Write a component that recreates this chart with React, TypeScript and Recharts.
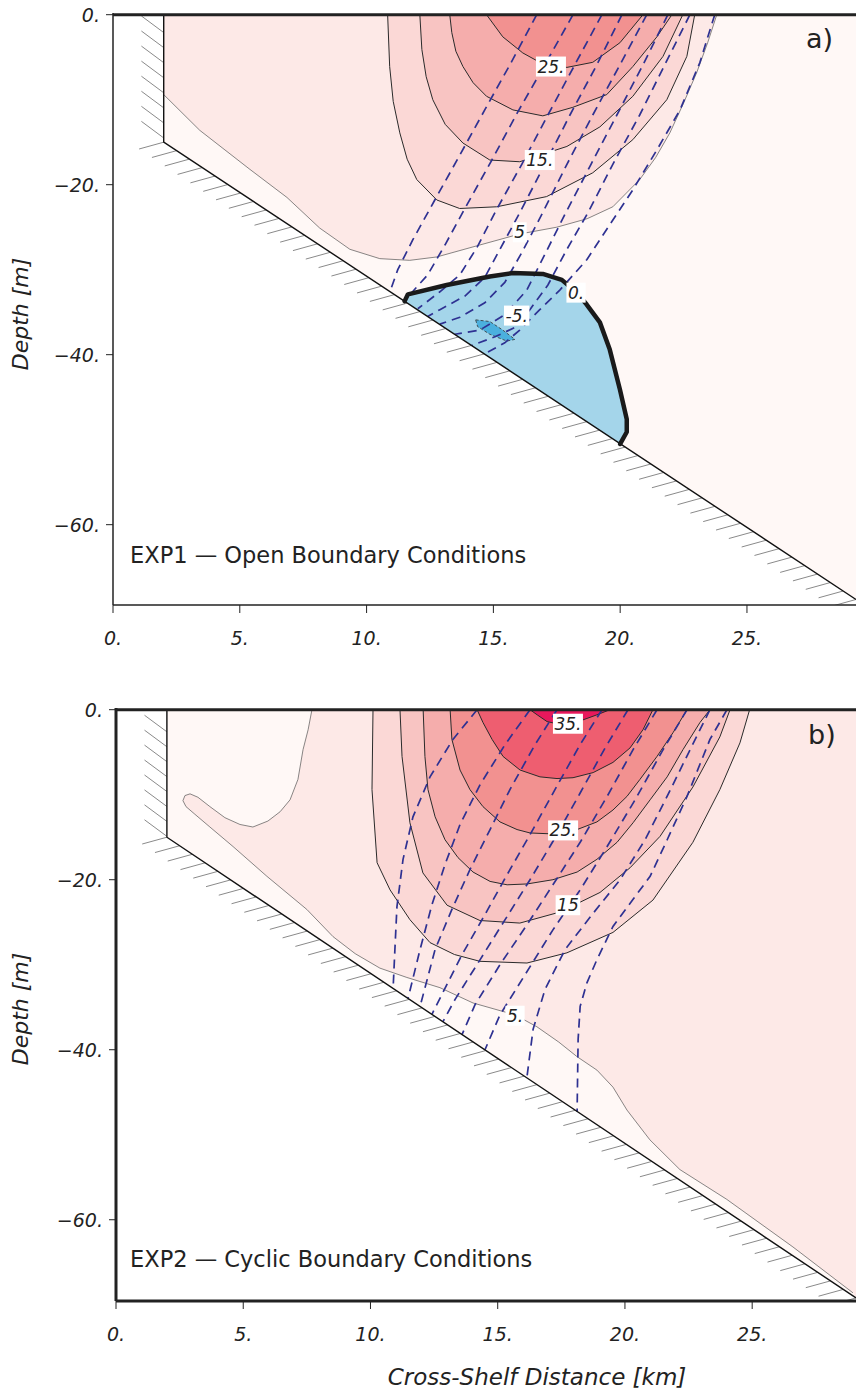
import React from "react";
import { ComposedChart, XAxis, YAxis, Scatter, Line } from "recharts";

const FONT = "'DejaVu Sans', sans-serif";
const INK = "#222";
const DASH_BLUE = "#2E3192";

const X_TICKS = [0, 5, 10, 15, 20, 25];
const Y_TICKS = [-60, -40, -20, 0];

// ---------- panel a (EXP1) ----------
const A_WATER = [[2, 0], [2, -15], [29.3, -68.8], [29.3, 0]];
const A_BED = [[2, 0], [2, -15], [29.3, -68.8]];
const A_C5 = [[2, -9.4], [3.42, -13.6], [5.4, -18.2], [6.86, -21.5], [8.15, -25.1], [9.34, -27.6], [10.52, -28.7], [11.7, -28.9], [12.77, -28.5], [14.46, -27.1], [16.04, -25.8], [17.5, -25], [18.7, -24], [19.71, -22.6], [20.77, -19.4], [21.4, -16.8], [21.96, -13.9], [22.5, -10.4], [23.02, -6.8], [23.45, -3.3], [23.81, 0]];
const A_C10 = [[10.83, 0], [10.91, -6.1], [11.05, -10.2], [11.31, -13.9], [11.6, -17], [11.98, -19.4], [12.77, -21.8], [13.67, -22.8], [15.13, -22.6], [17.1, -21.4], [18.92, -18.6], [20.5, -14.7], [21.84, -10], [22.63, -4.9], [22.94, 0]];
const A_C15 = [[12.1, 0], [12.18, -4.1], [12.35, -7.3], [12.61, -10], [13.1, -12.9], [13.8, -15.1], [14.86, -17.1], [16.04, -17.3], [17.9, -15.5], [19.2, -13.2], [20.5, -9.6], [21.69, -4.9], [22.47, 0]];
const A_C20 = [[13.28, 0], [13.36, -2.1], [13.52, -4.3], [13.8, -6.1], [14.2, -8], [14.73, -9.6], [15.77, -11.2], [16.95, -11.9], [18.13, -10.9], [19.47, -9.4], [20.5, -6.1], [21.45, -2.6], [22.04, 0]];
const A_C25 = [[14.73, 0], [15.37, -2.6], [16.16, -4.5], [16.83, -5.6], [17.9, -6.2], [18.92, -5.6], [19.99, -3.3], [20.9, 0]];
const A_C0 = [[11.5, -33.7], [11.63, -32.9], [13.16, -31.8], [14.86, -30.8], [15.77, -30.4], [16.95, -30.5], [17.7, -31.2], [18.29, -32.7], [18.68, -34.1], [19.2, -36.2], [19.59, -39.4], [19.99, -44.1], [20.26, -47.6], [20.26, -49.1], [20.0, -50.5]];
const A_CM5 = [[14.3, -35.9], [14.86, -36.1], [15.37, -37.1], [15.85, -38.2], [15.53, -38.4], [14.86, -37.6], [14.38, -36.7], [14.3, -35.9]];
const A_DASHED = [
  [[16.71, 0], [15.65, -5.9], [14.66, -11.2], [13.68, -16.5], [12.69, -21.8], [11.82, -26.5], [11.23, -30], [10.92, -32.6]],
  [[18.14, 0], [17.03, -5.9], [15.97, -11.4], [14.94, -17.1], [13.95, -22.4], [13.09, -27.1], [12.41, -30.6], [11.51, -33.6]],
  [[19.28, 0], [18.21, -5.9], [17.15, -11.8], [16.12, -17.6], [15.13, -22.9], [14.35, -27.4], [13.68, -30.6], [12.89, -32.6], [12.02, -34.6]],
  [[20.07, 0], [19.08, -5.9], [18.02, -11.8], [17.03, -17.6], [16.04, -23.3], [15.26, -27.6], [14.66, -30.9], [13.88, -33.1], [12.89, -34.7], [12.41, -35.5]],
  [[21.05, 0], [19.99, -5.9], [18.92, -11.8], [17.9, -17.6], [16.91, -23.5], [16.12, -28], [15.45, -31.5], [14.66, -33.9], [13.68, -35.6], [12.89, -36.4]],
  [[21.88, 0], [20.9, -5.9], [19.87, -11.8], [18.85, -17.6], [17.82, -23.5], [17.03, -28.2], [16.32, -32.4], [15.45, -35.3], [14.47, -37.1], [13.48, -37.6]],
  [[22.75, 0], [21.8, -5.65], [20.77, -11.8], [19.71, -17.6], [18.73, -23.3], [17.9, -27.6], [17.15, -31.8], [16.44, -34.7], [15.85, -36.8], [15.06, -37.9], [14.15, -38.9]],
  [[23.73, 0], [23.14, -5.65], [22.36, -11.2], [21.45, -15.9], [20.5, -20.6], [19.59, -24.7], [18.69, -28.8], [17.62, -32.4], [16.83, -34.7], [16.04, -37.1], [15.45, -38.6], [14.66, -39.9]],
];
const A_LABELS = [
  { x: 17.27, y: -6.1, t: "25." },
  { x: 16.83, y: -17.1, t: "15." },
  { x: 16.04, y: -25.6, t: "5" },
  { x: 18.26, y: -32.7, t: "0." },
  { x: 15.92, y: -35.4, t: "-5." },
];

// ---------- panel b (EXP2) ----------
const B_WATER = [[2, 0], [2, -15], [29.08, -69.2], [29.08, 0]];
const B_BED = [[2, 0], [2, -15], [29.08, -69.2]];
const B_C5 = [[7.7, 0], [7.55, -2.35], [7.35, -4.7], [7.15, -8.2], [6.84, -10.6], [6.45, -12], [5.97, -13.1], [5.38, -13.8], [4.87, -13.5], [4.28, -12.7], [3.69, -11.4], [3.22, -10.3], [2.91, -9.9], [2.71, -10.1], [2.63, -10.7], [2.75, -11.4], [3.1, -12.3], [3.69, -13.8], [4.6, -16.1], [5.93, -19.6], [7.5, -23.5], [8.53, -26.7], [9.4, -28.7], [10.37, -30.4], [11.43, -31.5], [12.73, -32.7], [14.03, -34.5], [15.68, -35.9], [16.54, -37.3], [17.4, -39.1], [18.11, -40.8], [18.9, -42.4], [19.53, -44.4], [20.08, -47.1], [20.98, -50.6], [22.16, -54.1], [24.0, -57.6], [26.6, -63.2], [28.96, -68.6]];
const B_C10 = [[10.1, 0], [10.06, -9.4], [10.26, -18], [10.77, -21.2], [11.55, -24.7], [12.34, -27.4], [13.3, -28.8], [14.3, -29.6], [16.15, -29.8], [17.72, -28.6], [19.53, -26.2], [21.1, -22.4], [22.67, -15.6], [23.73, -9.4], [24.52, -3.9], [24.9, 0]];
const B_C15 = [[11.16, 0], [11.24, -5.5], [11.55, -13.3], [12.06, -19.2], [13.01, -23], [14.3, -24.8], [15.87, -25.1], [17.45, -23.8], [19.02, -21.5], [20.2, -18.6], [21.38, -14.9], [22.67, -9.1], [23.73, -3.2], [24.13, 0]];
const B_C20 = [[12.07, 0], [12.14, -5.5], [12.26, -9.4], [12.54, -12.6], [12.93, -15.3], [13.44, -17.4], [14.03, -19.1], [14.7, -20.2], [15.37, -20.6], [16.15, -20.5], [17.17, -20], [18.12, -19.1], [18.9, -17.6], [19.69, -15.6], [20.32, -13.3], [20.99, -10.6], [21.66, -7.9], [22.28, -4.7], [22.95, -1.5], [23.34, 0]];
const B_C25 = [[13.13, 0], [13.2, -3.5], [13.52, -7.1], [13.91, -9.4], [14.42, -11.4], [15.09, -13.2], [15.76, -14.1], [16.27, -14.5], [17.05, -14.6], [18.12, -14.1], [18.9, -13.2], [19.53, -11.8], [20.08, -10.2], [20.59, -8.2], [21.26, -5.5], [21.89, -2.7], [22.44, 0]];
const B_C30 = [[14.19, 0], [14.42, -1.5], [14.78, -3.5], [15.21, -5.5], [15.88, -7.1], [16.66, -7.9], [17.33, -8.1], [17.96, -8.0], [18.75, -7.4], [19.53, -6.2], [20.2, -4.5], [20.71, -2.35], [21.1, 0]];
const B_C35 = [[16.27, 0], [16.55, -0.6], [16.94, -1.4], [17.33, -1.65], [17.84, -1.5], [18.35, -1.2], [18.9, -0.6], [19.41, 0]];
const B_DASHED = [
  [[14.19, 0], [13.24, -3.5], [12.34, -7.9], [11.67, -12.6], [11.28, -17.6], [11.04, -23.2], [10.96, -28.2], [10.89, -32.8]],
  [[16.27, 0], [15.29, -4.1], [14.31, -8.8], [13.52, -13.5], [12.93, -18.2], [12.42, -22.9], [11.95, -28.2], [11.48, -33.9]],
  [[17.33, 0], [16.47, -4.1], [15.48, -9.4], [14.7, -14.1], [13.91, -18.8], [13.2, -23.5], [12.54, -28.2], [11.95, -34.9]],
  [[19.1, 0], [18.24, -4.1], [17.25, -9.4], [16.27, -14.7], [15.37, -19.4], [14.5, -24.1], [13.6, -28.8], [12.42, -35.8]],
  [[20.12, 0], [19.22, -4.5], [18.24, -9.8], [17.25, -15.1], [16.27, -20], [15.29, -24.7], [14.31, -29.4], [13.32, -34.1], [12.85, -36.7]],
  [[21.26, 0], [20.32, -4.7], [19.3, -10.2], [18.24, -15.6], [17.17, -20.6], [16.15, -25.3], [15.09, -30], [14.11, -34.7], [13.6, -38.2]],
  [[22.44, 0], [21.46, -4.9], [20.4, -10.6], [19.3, -16.1], [18.24, -21.2], [17.17, -25.9], [16.07, -31.2], [15.09, -35.9], [14.5, -40]],
  [[23.34, 0], [22.56, -4.7], [21.69, -10], [20.79, -15.3], [19.81, -20], [18.71, -24.1], [17.65, -28.2], [16.86, -32.9], [16.39, -37.6], [16.15, -43.2]],
  [[24.01, 0], [23.34, -3.5], [22.44, -10.2], [21.66, -15.3], [20.99, -19.6], [20.32, -22.3], [19.53, -25.5], [18.9, -29.4], [18.51, -32.1], [18.24, -34.9], [18.16, -38.8], [18.12, -47.3]],
];
const B_LABELS = [
  { x: 17.76, y: -1.65, t: "35." },
  { x: 17.57, y: -14.2, t: "25." },
  { x: 17.76, y: -23, t: "15" },
  { x: 15.68, y: -36, t: "5." },
];

const COL = {
  water: "#FFF8F6",
  f5: "#FDE9E7",
  f10: "#FBD8D6",
  f15: "#F8C4C2",
  f20: "#F5ADAC",
  f25: "#F29190",
  f30: "#EE5E70",
  f35: "#E8185C",
  blue: "#A4D5EA",
  blue2: "#4BB0DE",
};

const toPts = (a: number[][]) => a.map(([x, y]) => ({ x, y }));

// short hatch strokes along a boundary segment (null entries break the line)
function hatch(from: number[], to: number[], n: number, dx: number, dy: number) {
  const out: { x: number | null; y: number | null }[] = [];
  for (let i = 0; i <= n; i++) {
    const x = from[0] + ((to[0] - from[0]) * i) / n;
    const y = from[1] + ((to[1] - from[1]) * i) / n;
    out.push({ x, y }, { x: x + dx, y: y + dy }, { x: null, y: null });
  }
  return out;
}

const fmt = (v: number) => (v < 0 ? "\u2212" + Math.abs(v) : String(v)) + ".";

const NoDot = () => <g />;

const XTick = (p: any) => (
  <text x={p.x} y={p.y} dy={14} textAnchor="middle" fontSize={19} fontStyle="italic" fontFamily={FONT} fill={INK}>
    {fmt(p.payload.value)}
  </text>
);

const YTick = (p: any) => (
  <text x={p.x} y={p.y} dy={7} textAnchor="end" fontSize={19} fontStyle="italic" fontFamily={FONT} fill={INK}>
    {fmt(p.payload.value)}
  </text>
);

const charW = (c: string) => (c === "." ? 5.4 : c === "-" ? 6.2 : 10.8);

const LabelBox = (props: any) => {
  const { cx, cy, payload } = props;
  const t: string = payload.t;
  const w = t.split("").reduce((s, c) => s + charW(c), 0) + 3;
  return (
    <g>
      <rect x={cx - w / 2} y={cy - 10} width={w} height={20} fill="#fff" />
      <text x={cx} y={cy + 6} textAnchor="middle" fontSize={17} fontStyle="italic" fontFamily={FONT} fill={INK}>
        {t}
      </text>
    </g>
  );
};

type Band = { d: number[][]; c: string };
type PanelCfg = {
  xMax: number;
  yMin: number;
  yWidth: number;
  xAxisH: number;
  frame: number;
  water: number[][];
  bands: Band[];
  contours: number[][][];
  thin: number[][][];
  dashed: number[][][];
  bed: number[][];
  hatch: { x: number | null; y: number | null }[];
  labels: { x: number; y: number; t: string }[];
  zero?: number[][];
  hole?: number[][];
};

// a little headroom above the surface so the heavy top rule is not clipped
const Y_TOP = 0.2;

function Panel({ cfg }: { cfg: PanelCfg }) {
  return (
    <ComposedChart width={856} height={690} margin={{ top: 13, right: 0, bottom: 0, left: 0 }}>
      <XAxis
        type="number"
        dataKey="x"
        domain={[0, cfg.xMax]}
        ticks={X_TICKS}
        interval={0}
        allowDataOverflow
        height={cfg.xAxisH}
        tickSize={8}
        tickMargin={18}
        axisLine={{ stroke: INK, strokeWidth: cfg.frame }}
        tickLine={{ stroke: INK, strokeWidth: 1 }}
        tick={XTick}
      />
      <YAxis
        type="number"
        dataKey="y"
        domain={[cfg.yMin, Y_TOP]}
        ticks={Y_TICKS}
        interval={0}
        allowDataOverflow
        width={cfg.yWidth}
        tickSize={7}
        tickMargin={6}
        axisLine={{ stroke: INK, strokeWidth: cfg.frame }}
        tickLine={{ stroke: INK, strokeWidth: 1 }}
        tick={YTick}
      />
      <Scatter data={toPts(cfg.water)} shape={NoDot} line={{ fill: COL.water, stroke: "none" }} isAnimationActive={false} />
      {cfg.bands.map((b, i) => (
        <Scatter key={"band" + i} data={toPts(b.d)} shape={NoDot} line={{ fill: b.c, stroke: "none" }} isAnimationActive={false} />
      ))}
      {cfg.zero && (
        <Scatter data={toPts(cfg.zero)} shape={NoDot} line={{ fill: COL.blue, stroke: "none" }} isAnimationActive={false} />
      )}
      {cfg.hole && (
        <Scatter
          data={toPts(cfg.hole)}
          shape={NoDot}
          line={{ fill: COL.blue2, stroke: "#333", strokeWidth: 0.8, strokeDasharray: "3 2" }}
          isAnimationActive={false}
        />
      )}
      {cfg.thin.map((c, i) => (
        <Scatter key={"thin" + i} data={toPts(c)} shape={NoDot} line={{ fill: "none", stroke: "#555", strokeWidth: 0.7 }} isAnimationActive={false} />
      ))}
      {cfg.contours.map((c, i) => (
        <Scatter key={"cnt" + i} data={toPts(c)} shape={NoDot} line={{ fill: "none", stroke: "#2a2a2a", strokeWidth: 1 }} isAnimationActive={false} />
      ))}
      {cfg.dashed.map((c, i) => (
        <Scatter
          key={"dash" + i}
          data={toPts(c)}
          shape={NoDot}
          line={{ fill: "none", stroke: DASH_BLUE, strokeWidth: 1.7, strokeDasharray: "9 6" }}
          isAnimationActive={false}
        />
      ))}
      <Line data={cfg.hatch} dataKey="y" stroke="#8a8a8a" strokeWidth={1} dot={false} connectNulls={false} isAnimationActive={false} />
      <Scatter data={toPts(cfg.bed)} shape={NoDot} line={{ fill: "none", stroke: "#111", strokeWidth: 1.4 }} isAnimationActive={false} />
      {cfg.zero && (
        <Scatter
          data={toPts(cfg.zero)}
          shape={NoDot}
          line={{ fill: "none", stroke: "#1a1a1a", strokeWidth: 4.5, strokeLinejoin: "round", strokeLinecap: "round" }}
          isAnimationActive={false}
        />
      )}
      <Scatter data={cfg.labels} shape={LabelBox} isAnimationActive={false} />
      {/* sea surface: heavy top frame */}
      <Scatter
        data={toPts([[0, 0], [cfg.xMax, 0]])}
        shape={NoDot}
        line={{ fill: "none", stroke: INK, strokeWidth: 3 }}
        isAnimationActive={false}
      />
    </ComposedChart>
  );
}

const PANEL_A: PanelCfg = {
  xMax: 29.3,
  yMin: -69.45,
  yWidth: 113,
  xAxisH: 85,
  frame: 1.5,
  water: A_WATER,
  bands: [
    { d: [[2, 0], ...A_C5], c: COL.f5 },
    { d: A_C10, c: COL.f10 },
    { d: A_C15, c: COL.f15 },
    { d: A_C20, c: COL.f20 },
    { d: A_C25, c: COL.f25 },
  ],
  contours: [A_C10, A_C15, A_C20, A_C25],
  thin: [A_C5],
  dashed: A_DASHED,
  bed: A_BED,
  hatch: [...hatch([2, -2.1], [2, -14.5], 7, -0.88, 1.95), ...hatch([2, -15], [29.3, -68.8], 54, -0.97, -0.8)],
  labels: A_LABELS,
  zero: A_C0,
  hole: A_CM5,
};

const PANEL_B: PanelCfg = {
  xMax: 29.08,
  yMin: -69.56,
  yWidth: 116,
  xAxisH: 84,
  frame: 3,
  water: B_WATER,
  bands: [
    { d: [...B_C5, [29.08, -69.2], [29.08, 0]], c: COL.f5 },
    { d: B_C10, c: COL.f10 },
    { d: B_C15, c: COL.f15 },
    { d: B_C20, c: COL.f20 },
    { d: B_C25, c: COL.f25 },
    { d: B_C30, c: COL.f30 },
    { d: B_C35, c: COL.f35 },
  ],
  contours: [B_C10, B_C15, B_C20, B_C25, B_C30, B_C35],
  thin: [B_C5],
  dashed: B_DASHED,
  bed: B_BED,
  hatch: [...hatch([2, -2.6], [2, -14.9], 7, -0.88, 1.95), ...hatch([2, -15], [29.08, -69.2], 54, -0.97, -0.8)],
  labels: B_LABELS,
};

export default function App() {
  return (
    <div style={{ position: "absolute", left: 0, top: 0, width: 856, height: 1389, background: "#fff", overflow: "hidden" }}>
      <div style={{ position: "absolute", left: 0, top: 0 }}>
        <Panel cfg={PANEL_A} />
      </div>
      <div style={{ position: "absolute", left: 0, top: 695 }}>
        <Panel cfg={PANEL_B} />
      </div>
      <svg width={856} height={1389} style={{ position: "absolute", left: 0, top: 0, pointerEvents: "none" }}>
        <g fontFamily={FONT} fill={INK}>
          <text x={806} y={48} fontSize={27}>a)</text>
          <text x={808} y={744} fontSize={27}>b)</text>
          <text x={130} y={563} fontSize={22.5}>EXP1 — Open Boundary Conditions</text>
          <text x={130} y={1267} fontSize={22.5}>EXP2 — Cyclic Boundary Conditions</text>
          <text x={28} y={314} fontSize={22} fontStyle="italic" textAnchor="middle" transform="rotate(-90 28 314)">
            Depth [m]
          </text>
          <text x={28} y={1009} fontSize={22} fontStyle="italic" textAnchor="middle" transform="rotate(-90 28 1009)">
            Depth [m]
          </text>
          <text x={537} y={1385} fontSize={23} fontStyle="italic" textAnchor="middle">
            Cross-Shelf Distance [km]
          </text>
        </g>
      </svg>
    </div>
  );
}
